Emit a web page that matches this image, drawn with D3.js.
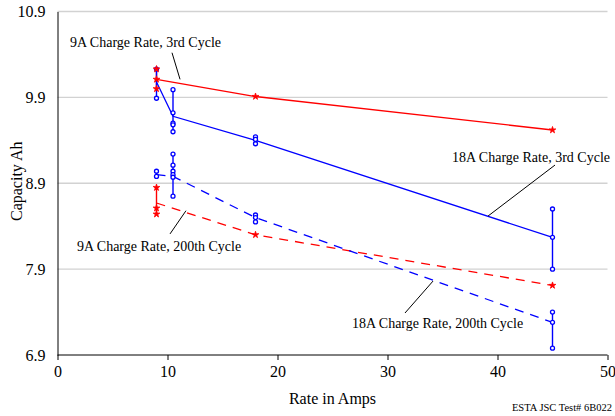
<!DOCTYPE html>
<html>
<head>
<meta charset="utf-8">
<script src="https://cdn.jsdelivr.net/npm/d3@7"></script>
<style>
  body { margin: 0; background: #fff; }
  svg { display: block; }
</style>
</head>
<body>
<svg id="chart" width="615" height="416"></svg>
<script>
// Axis ticks
const xTicks = [0, 10, 20, 30, 40, 50];
const yTicks = [6.9, 7.9, 8.9, 9.9, 10.9];

// 9A charge rate, 3rd cycle (red, solid)
const red3Rates = [9, 18, 45];
const red3Means = [10.11, 9.91, 9.52];
const red3Cells = [[10.23, 10.11, 10.0], [9.91], [9.52]];

// 18A charge rate, 3rd cycle (blue, solid)
const blue3Rates = [9, 10.5, 18, 45];
const blue3Means = [10.08, 9.68, 9.40, 8.27];
const blue3Cells = [[10.23, 9.89], [9.99, 9.72, 9.60, 9.58, 9.50], [9.44, 9.41, 9.36], [8.60, 8.27, 7.90]];

// 9A charge rate, 200th cycle (red, dashed)
const red200Rates = [9, 18, 45];
const red200Means = [8.67, 8.30, 7.71];
const red200Cells = [[8.85, 8.61, 8.54], [8.30], [7.71]];

// 18A charge rate, 200th cycle (blue, dashed)
const blue200Rates = [9, 10.5, 18, 45];
const blue200Means = [9.00, 8.98, 8.50, 7.28];
const blue200Cells = [[9.04, 8.98], [9.24, 9.11, 9.04, 9.00, 8.97, 8.75], [8.53, 8.50, 8.45], [7.40, 7.28, 6.98]];

// Callout labels: text anchor and leader line, in data units
const labelTexts = ["9A Charge Rate, 3rd Cycle", "18A Charge Rate, 3rd Cycle", "9A Charge Rate, 200th Cycle", "18A Charge Rate, 200th Cycle"];
const labelPos = [[1.14, 10.49], [50.23, 9.147], [1.77, 8.11], [26.77, 7.214]];
const labelAnchor = ["start", "end", "start", "start"];
const leaderFrom = [[10.41, 10.42], [45.23, 9.112], [10.23, 8.31], [31.59, 7.389]];
const leaderTo = [[11.14, 10.11], [39.14, 8.518], [11.68, 8.58], [34.14, 7.761]];

const RED = "#ff0000", BLUE = "#0000ff";
const FONT = "Liberation Serif, Times New Roman, serif";

const svg = d3.select("#chart").attr("font-family", FONT);
const x = d3.scaleLinear().domain([0, 50]).range([57.5, 607.5]);
const y = d3.scaleLinear().domain([6.9, 10.9]).range([355, 11.5]);

// Horizontal gridlines
svg.append("g").selectAll("line").data(yTicks.slice(1)).join("line")
  .attr("x1", x(0)).attr("x2", x(50))
  .attr("y1", d => y(d)).attr("y2", d => y(d))
  .attr("stroke", "#d2d2d2").attr("stroke-width", 1.3);

// X axis
const xAxis = svg.append("g").attr("transform", `translate(0,${y(6.9)})`)
  .call(d3.axisBottom(x).tickValues(xTicks).tickFormat(d3.format("d")).tickSize(5).tickPadding(6));
xAxis.attr("font-family", FONT);
xAxis.select(".domain").attr("stroke", "#000").attr("d", `M${x(0)},0H${x(50)}`);
xAxis.selectAll(".tick line").attr("stroke", "#000");
xAxis.selectAll("text").attr("font-size", 16).attr("fill", "#000");

// Y axis
const yAxis = svg.append("g").attr("transform", `translate(${x(0)},0)`)
  .call(d3.axisLeft(y).tickValues(yTicks).tickFormat(d3.format(".1f")).tickSize(0).tickPadding(12));
yAxis.attr("font-family", FONT);
yAxis.select(".domain").attr("stroke", "#000");
yAxis.selectAll("text").attr("font-size", 16).attr("fill", "#000");

// Axis titles
svg.append("text").attr("x", (x(0) + x(50)) / 2).attr("y", 404)
  .attr("text-anchor", "middle").attr("font-size", 16).text("Rate in Amps");
svg.append("text").attr("transform", `translate(22,${(y(6.9) + y(10.9)) / 2 - 2}) rotate(-90)`)
  .attr("text-anchor", "middle").attr("font-size", 16).text("Capacity Ah");
svg.append("text").attr("x", 612).attr("y", 411)
  .attr("text-anchor", "end").attr("font-size", 10.5).text("ESTA JSC Test# 6B022");

const series = [
  { rates: red3Rates, means: red3Means, cells: red3Cells, color: RED, dash: null, marker: "red" },
  { rates: red200Rates, means: red200Means, cells: red200Cells, color: RED, dash: "9,7", marker: "red" },
  { rates: blue3Rates, means: blue3Means, cells: blue3Cells, color: BLUE, dash: null, marker: "blue" },
  { rates: blue200Rates, means: blue200Means, cells: blue200Cells, color: BLUE, dash: "9,7", marker: "blue" }
];

// Range bars (min to max of individual cells)
series.forEach(s => {
  const bars = s.rates.map((r, i) => ({ r, lo: d3.min(s.cells[i]), hi: d3.max(s.cells[i]) }))
    .filter(d => d.hi > d.lo);
  svg.append("g").selectAll("line").data(bars).join("line")
    .attr("x1", d => x(d.r)).attr("x2", d => x(d.r))
    .attr("y1", d => y(d.hi)).attr("y2", d => y(d.lo))
    .attr("stroke", s.color).attr("stroke-width", 1.4);
});

// Mean lines
const line = d3.line().x(d => x(d[0])).y(d => y(d[1]));
series.forEach(s => {
  svg.append("path")
    .datum(s.rates.map((r, i) => [r, s.means[i]]))
    .attr("d", line).attr("fill", "none")
    .attr("stroke", s.color).attr("stroke-width", 1.3)
    .attr("stroke-dasharray", s.dash);
});

// Cell markers (blue first, red on top)
[series[2], series[3], series[0], series[1]].forEach(s => {
  const pts = [];
  s.rates.forEach((r, i) => s.cells[i].forEach(v => pts.push([r, v])));
  const g = svg.append("g");
  if (s.marker === "blue") {
    g.selectAll("circle").data(pts).join("circle")
      .attr("cx", d => x(d[0])).attr("cy", d => y(d[1])).attr("r", 2)
      .attr("fill", "#fff").attr("stroke", BLUE).attr("stroke-width", 1.3);
  } else {
    g.selectAll("path").data(pts).join("path")
      .attr("transform", d => `translate(${x(d[0])},${y(d[1])})`)
      .attr("d", d3.symbol(d3.symbolStar, 14))
      .attr("fill", RED).attr("stroke", RED).attr("stroke-width", 0.8);
  }
});

// Callout labels with leader lines
labelTexts.forEach((t, i) => {
  svg.append("line")
    .attr("x1", x(leaderFrom[i][0])).attr("y1", y(leaderFrom[i][1]))
    .attr("x2", x(leaderTo[i][0])).attr("y2", y(leaderTo[i][1]))
    .attr("stroke", "#000").attr("stroke-width", 1);
  svg.append("text")
    .attr("x", x(labelPos[i][0])).attr("y", y(labelPos[i][1]))
    .attr("text-anchor", labelAnchor[i]).attr("font-size", 14).text(t);
});
</script>
</body>
</html>
